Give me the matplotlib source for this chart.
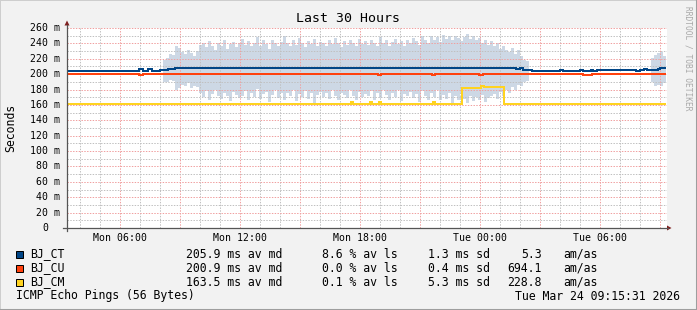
import numpy as np
import matplotlib
matplotlib.use('Agg')
import matplotlib.pyplot as plt
from matplotlib.lines import Line2D
from matplotlib.patches import Rectangle, Polygon
from matplotlib.transforms import blended_transform_factory

# time axis: hours since Mon 00:00
T_START = 3.35
T_END = 33.35

# median lines (step data: time in hours, value in ms)
ct_t = [3.35, 6.95, 7.15, 7.4, 7.6, 8.0, 8.4, 8.75, 25.8, 26.0, 26.15, 26.3, 26.6,
        28.0, 28.15, 29.0, 29.15, 29.55, 29.65, 29.85, 31.8, 32.0, 32.2, 32.35,
        32.9, 33.0, 33.29]
ct_v = [204.1, 206.3, 204.1, 206.3, 204.1, 205.4, 206.7, 208.0, 206.7, 208.0, 205.4, 205.0, 203.7,
        205.0, 203.7, 205.0, 203.7, 205.4, 203.7, 205.0, 203.7, 205.0, 206.3, 205.0,
        206.7, 208.0, 208.0]

cu_t = [3.35, 6.95, 7.15, 18.9, 19.03, 21.6, 21.73, 23.97, 24.17, 29.17, 29.58, 33.29]
cu_v = [200.6, 198.5, 200.6, 198.5, 200.6, 198.5, 200.6, 198.5, 200.6, 198.9, 200.6, 200.6]

cm_t = [3.35, 17.55, 17.65, 18.5, 18.6, 18.93, 19.05, 21.63, 21.75, 23.12, 24.03, 24.2, 25.2, 33.29]
cm_v = [161.6, 163.4, 161.6, 163.4, 161.6, 163.4, 161.6, 163.4, 161.6, 182.4, 185.0, 182.7, 161.6, 161.6]

# smoke (min/max spread of BJ_CT pings), 9-minute bins
smoke1_start = 8.15
smoke1_top = [219, 221, 226, 225, 236, 234, 229, 226, 232, 227, 224, 230,
              238, 241, 235, 243, 237, 232, 240, 236, 244, 233, 239, 242, 235, 240,
              246, 238, 243, 236, 241, 248, 237, 244, 239, 233, 245, 240, 236, 242,
              249, 241, 236, 244, 238, 247, 240, 235, 243, 239, 246, 237, 242, 240,
              236, 244, 239, 247, 241, 235, 243, 238, 245, 240, 237, 246, 239, 243,
              238, 245, 241, 236, 248, 240, 244, 237, 242, 246, 239, 243, 236, 244,
              240, 247, 243, 238, 249, 245, 241, 250, 244, 248, 242, 251, 246, 249,
              245, 250, 247, 243, 248, 252, 246, 249, 244, 247, 241, 245, 238, 243,
              236, 240, 233, 237, 231, 229, 234, 226, 232, 224, 219, 217]
smoke1_bottom = [190, 190, 192, 191, 180, 182, 186, 184, 188, 182, 185, 183,
                 176, 170, 178, 166, 174, 180, 172, 168, 176, 171, 165, 177, 173, 169,
                 172, 178, 166, 175, 170, 181, 168, 174, 177, 164, 173, 179, 169, 175,
                 167, 176, 172, 180, 165, 174, 170, 178, 168, 175, 163, 173, 177, 170,
                 175, 168, 179, 171, 166, 176, 173, 169, 180, 172, 167, 177, 170, 174,
                 171, 178, 166, 175, 169, 180, 173, 167, 176, 170, 179, 165, 174, 172,
                 177, 169, 174, 164, 178, 171, 167, 175, 170, 179, 166, 173, 168, 176,
                 163, 171, 166, 174, 168, 162, 172, 165, 170, 167, 173, 164, 169, 171,
                 174, 168, 177, 172, 179, 176, 183, 180, 186, 184, 190, 191]
smoke2_start = 32.55
smoke2_top = [221, 225, 227, 229, 224]
smoke2_bottom = [190, 185, 186, 184, 188]
SMOKE_STEP = 0.15

tick_hours = [6, 12, 18, 24, 30]
tick_labels = ['Mon 06:00', 'Mon 12:00', 'Mon 18:00', 'Tue 00:00', 'Tue 06:00']

hosts = ['BJ_CT', 'BJ_CU', 'BJ_CM']
colors = ['#004586', '#ff420e', '#ffd320']
avg_md = ['205.9', '200.9', '163.5']
loss = ['8.6', '0.0', '0.1']
sd = ['1.3', '0.4', '5.3']
amas = ['5.3', '694.1', '228.8']

W, H = 697, 310
MONO = 'DejaVu Sans Mono'
MAJOR_GRID = '#f0a0a0'
MINOR_GRID = '#c0c0c0'


def fx(x):
    return x / W


def fy(y):
    return 1 - y / H


fig = plt.figure(figsize=(W / 100, H / 100), dpi=100, facecolor='#f2f2f2')
ax = fig.add_axes([fx(67), fy(228), 600 / W, 200 / H])
ax.set_facecolor('white')
ax.set_xlim(T_START, T_END)
ax.set_ylim(0, 260)
for s in ax.spines.values():
    s.set_visible(False)
ax.set_xticks([])
ax.set_yticks([])

# smoke
for start, top, bot in [(smoke1_start, smoke1_top, smoke1_bottom),
                        (smoke2_start, smoke2_top, smoke2_bottom)]:
    t = start + SMOKE_STEP * np.arange(len(top) + 1)
    ax.fill_between(t, bot + [bot[-1]], top + [top[-1]], step='post',
                    color='#cdd8e5', lw=0, zorder=1)

# grid (dotted, 1px on / 1px off)
for h in range(4, 34):
    major = h % 3 == 0
    ax.axvline(h, color=MAJOR_GRID if major else MINOR_GRID, lw=0.72,
               dashes=(1.4, 1.4), zorder=2)
for v in range(10, 261, 10):
    major = v % 20 == 0
    ax.axhline(v, color=MAJOR_GRID if major else MINOR_GRID, lw=0.72,
               dashes=(1.4, 1.4), zorder=2)

# median lines
for tt, vv, c in [(ct_t, ct_v, colors[0]), (cu_t, cu_v, colors[1]), (cm_t, cm_v, colors[2])]:
    ax.plot(tt, vv, drawstyle='steps-post', color=c, lw=1.44, zorder=3,
            solid_joinstyle='miter', solid_capstyle='butt')

# axes lines and arrows
fig.add_artist(Line2D([fx(67), fx(67)], [fy(231), fy(25)], color='#555555', lw=0.9))
fig.add_artist(Line2D([fx(63), fx(668)], [fy(228), fy(228)], color='#555555', lw=0.9))
fig.add_artist(Polygon([(fx(64.5), fy(25.5)), (fx(69.5), fy(25.5)), (fx(67), fy(20.5))],
                       closed=True, color='#7f1f1f', lw=0))
fig.add_artist(Polygon([(fx(667), fy(225.5)), (fx(667), fy(230.5)), (fx(671.5), fy(228))],
                       closed=True, color='#7f1f1f', lw=0))

# y ticks + labels
ytr = blended_transform_factory(fig.transFigure, ax.transData)
for v in range(0, 261, 20):
    if v == 0:
        ax.text(fx(48.2), v, '0', transform=ytr, ha='right', va='center',
                family=MONO, fontsize=7.1)
    else:
        ax.text(fx(60), v, f'{v} m', transform=ytr, ha='right', va='center',
                family=MONO, fontsize=7.1)
        ax.add_artist(Line2D([fx(63.5), fx(67)], [v, v], transform=ytr,
                             color='#555555', lw=0.72))

# x tick labels and marks
xtr = blended_transform_factory(ax.transData, fig.transFigure)
for h, lab in zip(tick_hours, tick_labels):
    ax.text(h, fy(238), lab, transform=xtr, ha='center', va='center',
            family=MONO, fontsize=7.1)
for h in range(6, 34, 3):
    ax.add_artist(Line2D([h, h], [fy(228), fy(231)], transform=xtr,
                         color=MAJOR_GRID, lw=0.72))

# title, y label, watermark
fig.text(fx(348), fy(18.5), 'Last 30 Hours', ha='center', va='center',
         family=MONO, fontsize=9.5)
fig.text(fx(10.5), fy(128), 'Seconds', rotation=90, ha='center', va='center',
         family=MONO, fontsize=8.3)
fig.text(fx(688), fy(58), 'RRDTOOL / TOBI OETIKER', rotation=-90, ha='center',
         va='center', family=MONO, fontsize=5.7, color='#a8a8a8')

# legend
rows_y = [254, 268, 282]
for i, ry in enumerate(rows_y):
    fig.add_artist(Rectangle((fx(16), fy(ry + 3.5)), 7 / W, 7 / H, facecolor=colors[i],
                             edgecolor='black', lw=0.72, transform=fig.transFigure))
    fig.text(fx(30), fy(ry), hosts[i], ha='left', va='center', family=MONO, fontsize=8.3)
    fig.text(fx(185.7), fy(ry), f'{avg_md[i]} ms av md', ha='left', va='center',
             family=MONO, fontsize=8.3)
    fig.text(fx(397.5), fy(ry), f'{loss[i]} % av ls', ha='right', va='center',
             family=MONO, fontsize=8.3)
    fig.text(fx(490), fy(ry), f'{sd[i]} ms sd', ha='right', va='center',
             family=MONO, fontsize=8.3)
    fig.text(fx(541.7), fy(ry), amas[i], ha='right', va='center', family=MONO, fontsize=8.3)
    fig.text(fx(563.3), fy(ry), 'am/as', ha='left', va='center', family=MONO, fontsize=8.3)

fig.text(fx(16.5), fy(296), 'ICMP Echo Pings (56 Bytes)', ha='left', va='center',
         family=MONO, fontsize=8.3)
fig.text(fx(680), fy(296), 'Tue Mar 24 09:15:31 2026', ha='right', va='center',
         family=MONO, fontsize=8.3)

# frame shading
fig.add_artist(Line2D([0, 0], [0, 1], color='#cecece', lw=1.44))
fig.add_artist(Line2D([0, 1], [1, 1], color='#cecece', lw=1.44))
fig.add_artist(Line2D([1, 1], [0, 1], color='#9e9e9e', lw=2.2))
fig.add_artist(Line2D([0, 1], [0, 0], color='#9e9e9e', lw=2.2))

fig.savefig('out.png', dpi=100, facecolor=fig.get_facecolor())
